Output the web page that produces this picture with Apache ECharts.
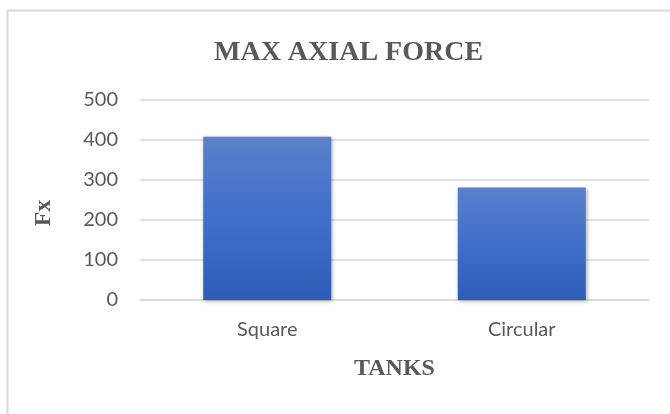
<!DOCTYPE html>
<html>
<head>
<meta charset="utf-8">
<title>MAX AXIAL FORCE</title>
<script src="https://cdn.jsdelivr.net/npm/echarts@6/dist/echarts.min.js"></script>
<style>
  html, body { margin: 0; padding: 0; background: #fff; }
  #chart { width: 670px; height: 414px; }
</style>
</head>
<body>
<div id="chart"></div>
<script>
  // data
  var tanks = ['Square', 'Circular'];
  var fx = [408, 281];
  var yTicks = [0, 100, 200, 300, 400, 500];

  var myChart = echarts.init(document.getElementById('chart'));

  var barColor = new echarts.graphic.LinearGradient(0, 0, 0, 1, [
    { offset: 0, color: '#5b80cc' },
    { offset: 0.5, color: '#3f6fc9' },
    { offset: 1, color: '#2e5db7' }
  ]);

  var option = {
    animation: false,
    title: {
      text: 'MAX AXIAL FORCE',
      left: 209,
      top: 34,
      textStyle: {
        fontFamily: 'Liberation Serif',
        fontWeight: 'bold',
        fontSize: 28,
        color: '#595959'
      }
    },
    graphic: [{
      type: 'rect',
      shape: { x: 7.5, y: 10.5, width: 700, height: 500 },
      style: { fill: 'none', stroke: '#d9d9d9', lineWidth: 2 },
      silent: true
    }],
    grid: { left: 140, right: 21, top: 100, bottom: 114 },
    xAxis: {
      type: 'category',
      data: tanks,
      name: 'TANKS',
      nameLocation: 'middle',
      nameGap: 57,
      nameTextStyle: {
        fontFamily: 'Liberation Serif',
        fontWeight: 'bold',
        fontSize: 24,
        color: '#595959'
      },
      axisLine: { show: true, lineStyle: { color: '#d9d9d9', width: 1.5 } },
      axisTick: { show: false },
      axisLabel: {
        margin: 20,
        fontFamily: 'Lato',
        fontSize: 20,
        color: '#595959'
      }
    },
    yAxis: {
      type: 'value',
      min: yTicks[0],
      max: yTicks[yTicks.length - 1],
      interval: 100,
      name: 'Fx',
      nameLocation: 'middle',
      nameGap: 84,
      nameRotate: 90,
      nameTextStyle: {
        fontFamily: 'Liberation Serif',
        fontWeight: 'bold',
        fontSize: 24,
        color: '#595959',
        padding: [0, 26, 0, 0]
      },
      axisLine: { show: false },
      axisTick: { show: false },
      axisLabel: {
        margin: 22,
        fontFamily: 'Lato',
        fontSize: 20,
        color: '#595959'
      },
      splitLine: { lineStyle: { color: '#d9d9d9', width: 1.5 } }
    },
    series: [{
      type: 'bar',
      data: fx,
      barWidth: 128,
      itemStyle: {
        color: barColor,
        shadowBlur: 4,
        shadowColor: 'rgba(0, 0, 0, 0.35)',
        shadowOffsetX: 1,
        shadowOffsetY: 1
      }
    }]
  };

  myChart.setOption(option);
</script>
</body>
</html>
